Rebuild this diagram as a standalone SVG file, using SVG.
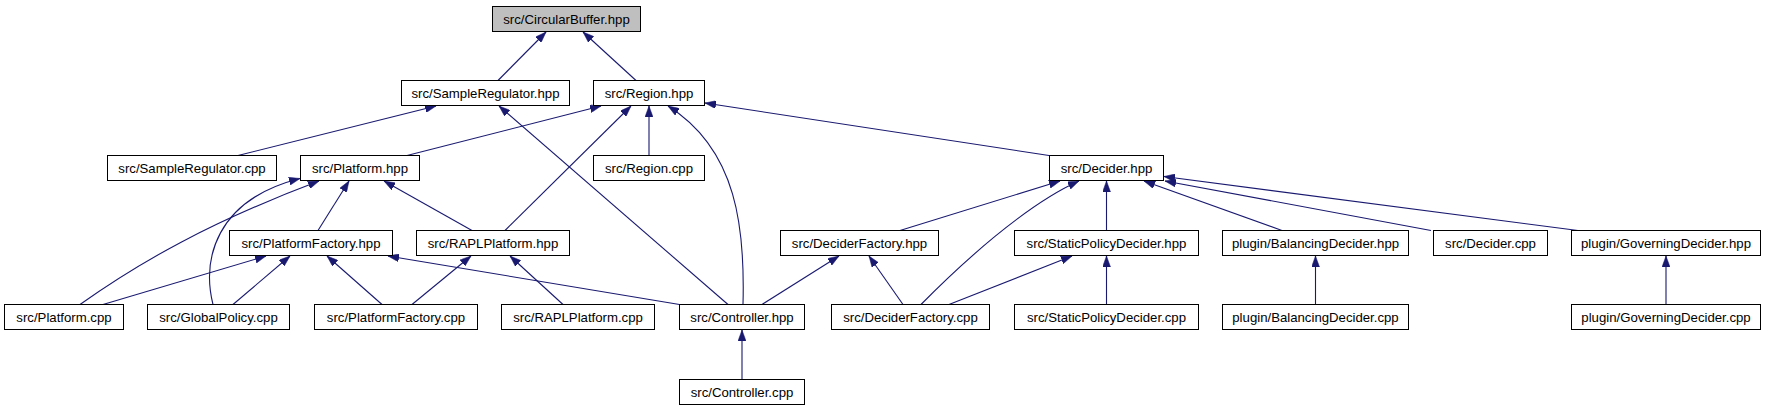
<svg xmlns="http://www.w3.org/2000/svg" width="1767" height="411" viewBox="0 0 1767 411">
<style>
.node rect{fill:#ffffff;stroke:#000000;stroke-width:1}
.node.root rect{fill:#bfbfbf}
.node text{font-family:"Liberation Sans",Arial,Helvetica,sans-serif;font-size:13.2px;text-anchor:middle;fill:#000000}
.edge{fill:none;stroke:#191970;stroke-width:1.1;marker-end:url(#arr)}
</style>
<defs>
<marker id="arr" viewBox="0 0 11 8" refX="11" refY="4" markerWidth="11" markerHeight="8" markerUnits="userSpaceOnUse" orient="auto">
<path d="M0,0 L11,4 L0,8 z" fill="#191970" stroke="#191970" stroke-width="0.5"/>
</marker>
</defs>
<rect width="1767" height="411" fill="#ffffff"/>
<g id="edges">
<path class="edge" d="M498,80.5 L546,32"/>
<path class="edge" d="M636,80.5 L583,32"/>
<path class="edge" d="M238,155.5 L436,106"/>
<path class="edge" d="M728,304.5 L499,106"/>
<path class="edge" d="M407,155.5 L601,106"/>
<path class="edge" d="M505,230.5 L631,106"/>
<path class="edge" d="M649,155.5 L649,106"/>
<path class="edge" d="M743,304.5 C745,230 738,150 668,106"/>
<path class="edge" d="M1049,155.5 L705,103"/>
<path class="edge" d="M318,230.5 L349,181"/>
<path class="edge" d="M472,230.5 L384,181"/>
<path class="edge" d="M80,304.5 C140,262 210,222 319,181"/>
<path class="edge" d="M213,304.5 C202,260 215,200 300,178.5"/>
<path class="edge" d="M103,304.5 L266,256"/>
<path class="edge" d="M233,304.5 L290,256"/>
<path class="edge" d="M382,304.5 L327,256"/>
<path class="edge" d="M679.5,304.5 L388,256"/>
<path class="edge" d="M412,304.5 L471,256"/>
<path class="edge" d="M563,304.5 L510,256"/>
<path class="edge" d="M900,230.5 L1060,181"/>
<path class="edge" d="M921,304.5 C960,265 1025,205 1079,181"/>
<path class="edge" d="M1106.5,230.5 L1106.5,181"/>
<path class="edge" d="M1282,230.5 L1144,181"/>
<path class="edge" d="M1431,230.5 L1165,181"/>
<path class="edge" d="M1578,230.5 L1164,176.5"/>
<path class="edge" d="M762,304.5 L839,256"/>
<path class="edge" d="M903,304.5 L869,256"/>
<path class="edge" d="M949,304.5 L1072,256"/>
<path class="edge" d="M1106.5,304.5 L1106.5,256"/>
<path class="edge" d="M1315.5,304.5 L1315.5,256"/>
<path class="edge" d="M1666,304.5 L1666,256"/>
<path class="edge" d="M742,379.5 L742,330"/>
</g>
<g id="node-circularbuffer-hpp" class="node root"><rect x="492.5" y="6.5" width="148" height="25"/><text x="566.5" y="23.5">src/CircularBuffer.hpp</text></g>
<g id="node-sampleregulator-hpp" class="node"><rect x="401.5" y="80.5" width="168" height="25"/><text x="485.5" y="97.5">src/SampleRegulator.hpp</text></g>
<g id="node-region-hpp" class="node"><rect x="593.5" y="80.5" width="111" height="25"/><text x="649" y="97.5">src/Region.hpp</text></g>
<g id="node-sampleregulator-cpp" class="node"><rect x="107.5" y="155.5" width="169" height="25"/><text x="192" y="172.5">src/SampleRegulator.cpp</text></g>
<g id="node-platform-hpp" class="node"><rect x="300.5" y="155.5" width="119" height="25"/><text x="360" y="172.5">src/Platform.hpp</text></g>
<g id="node-region-cpp" class="node"><rect x="593.5" y="155.5" width="111" height="25"/><text x="649" y="172.5">src/Region.cpp</text></g>
<g id="node-decider-hpp" class="node"><rect x="1049.5" y="155.5" width="114" height="25"/><text x="1106.5" y="172.5">src/Decider.hpp</text></g>
<g id="node-platformfactory-hpp" class="node"><rect x="229.5" y="230.5" width="163" height="25"/><text x="311" y="247.5">src/PlatformFactory.hpp</text></g>
<g id="node-raplplatform-hpp" class="node"><rect x="416.5" y="230.5" width="153" height="25"/><text x="493" y="247.5">src/RAPLPlatform.hpp</text></g>
<g id="node-deciderfactory-hpp" class="node"><rect x="780.5" y="230.5" width="158" height="25"/><text x="859.5" y="247.5">src/DeciderFactory.hpp</text></g>
<g id="node-staticpolicydecider-hpp" class="node"><rect x="1014.5" y="230.5" width="184" height="25"/><text x="1106.5" y="247.5">src/StaticPolicyDecider.hpp</text></g>
<g id="node-balancingdecider-hpp" class="node"><rect x="1222.5" y="230.5" width="186" height="25"/><text x="1315.5" y="247.5">plugin/BalancingDecider.hpp</text></g>
<g id="node-decider-cpp" class="node"><rect x="1433.5" y="230.5" width="114" height="25"/><text x="1490.5" y="247.5">src/Decider.cpp</text></g>
<g id="node-governingdecider-hpp" class="node"><rect x="1571.5" y="230.5" width="189" height="25"/><text x="1666" y="247.5">plugin/GoverningDecider.hpp</text></g>
<g id="node-platform-cpp" class="node"><rect x="4.5" y="304.5" width="119" height="25"/><text x="64" y="321.5">src/Platform.cpp</text></g>
<g id="node-globalpolicy-cpp" class="node"><rect x="147.5" y="304.5" width="142" height="25"/><text x="218.5" y="321.5">src/GlobalPolicy.cpp</text></g>
<g id="node-platformfactory-cpp" class="node"><rect x="314.5" y="304.5" width="163" height="25"/><text x="396" y="321.5">src/PlatformFactory.cpp</text></g>
<g id="node-raplplatform-cpp" class="node"><rect x="501.5" y="304.5" width="153" height="25"/><text x="578" y="321.5">src/RAPLPlatform.cpp</text></g>
<g id="node-controller-hpp" class="node"><rect x="679.5" y="304.5" width="125" height="25"/><text x="742" y="321.5">src/Controller.hpp</text></g>
<g id="node-deciderfactory-cpp" class="node"><rect x="831.5" y="304.5" width="158" height="25"/><text x="910.5" y="321.5">src/DeciderFactory.cpp</text></g>
<g id="node-staticpolicydecider-cpp" class="node"><rect x="1014.5" y="304.5" width="184" height="25"/><text x="1106.5" y="321.5">src/StaticPolicyDecider.cpp</text></g>
<g id="node-balancingdecider-cpp" class="node"><rect x="1222.5" y="304.5" width="186" height="25"/><text x="1315.5" y="321.5">plugin/BalancingDecider.cpp</text></g>
<g id="node-governingdecider-cpp" class="node"><rect x="1571.5" y="304.5" width="189" height="25"/><text x="1666" y="321.5">plugin/GoverningDecider.cpp</text></g>
<g id="node-controller-cpp" class="node"><rect x="679.5" y="379.5" width="125" height="25"/><text x="742" y="396.5">src/Controller.cpp</text></g>
</svg>
